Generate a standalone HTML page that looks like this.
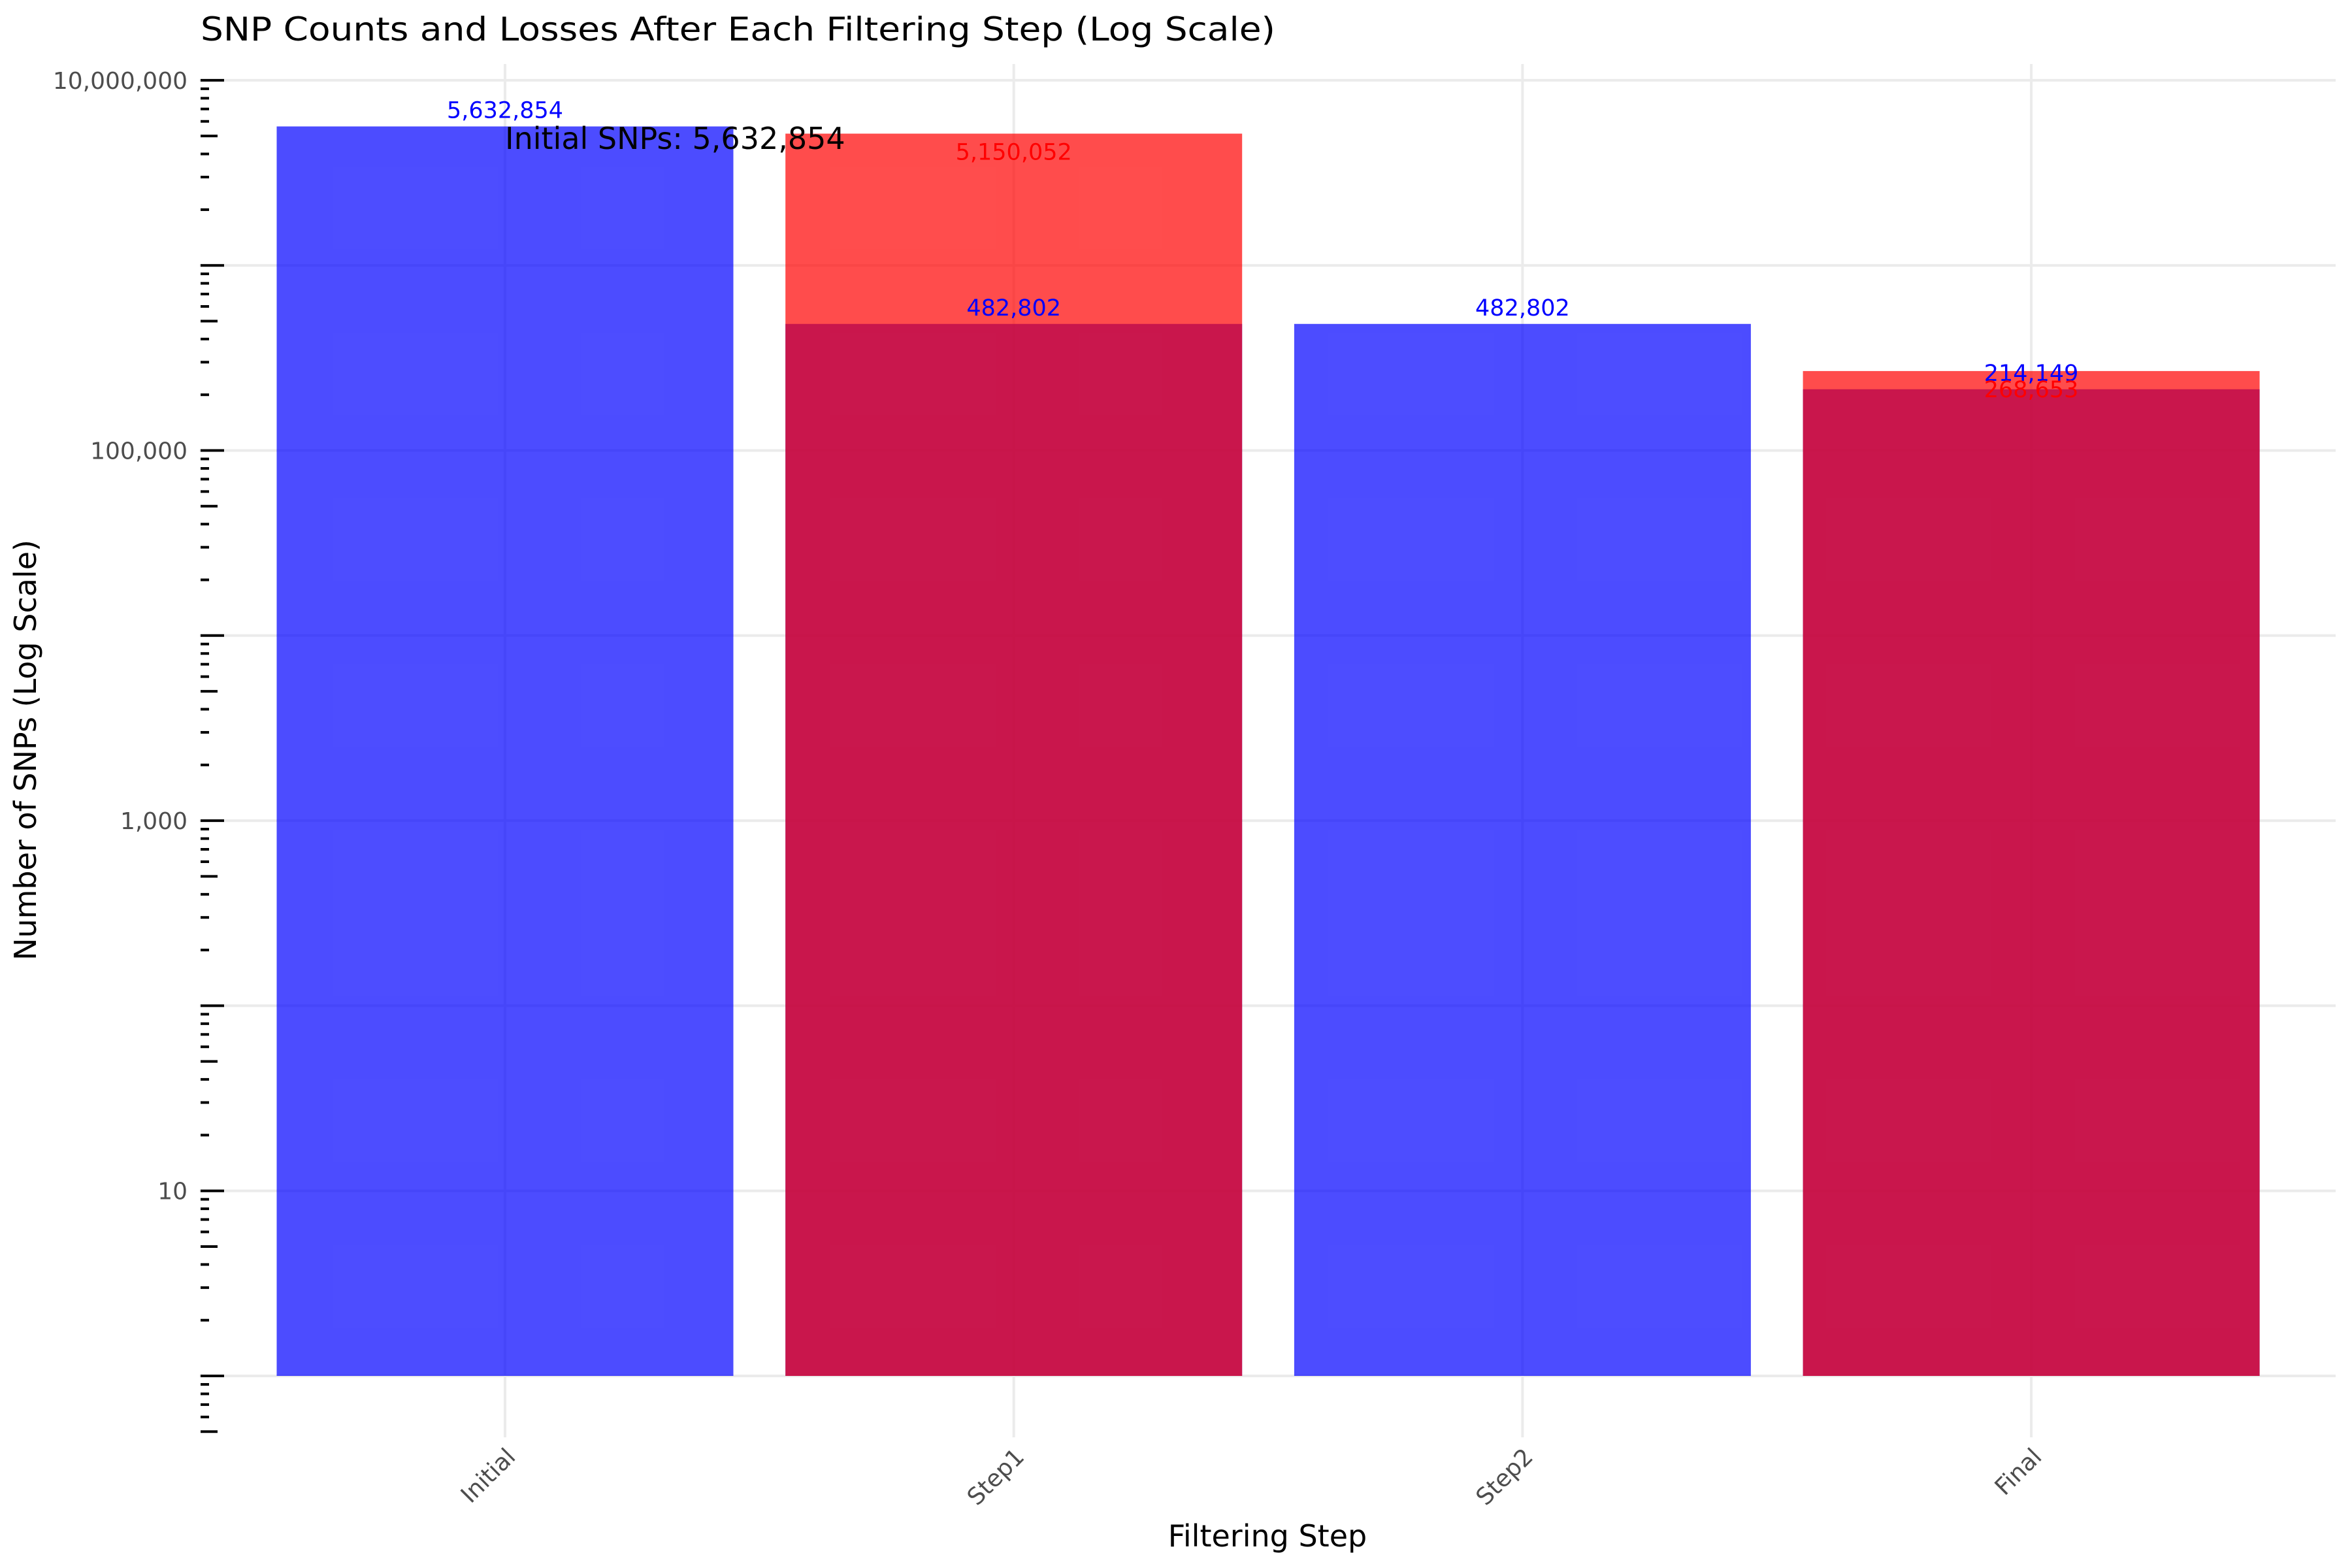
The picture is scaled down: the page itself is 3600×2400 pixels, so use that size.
<!DOCTYPE html>
<html><head><meta charset="utf-8"><style>
html,body{margin:0;padding:0;background:#fff;}
svg{display:block;font-family:"DejaVu Sans","Liberation Sans",sans-serif;}
</style></head><body>
<svg id="chart" width="3600" height="2400" viewBox="0 0 3600 2400" xmlns="http://www.w3.org/2000/svg">
<g id="grid"></g>
<g id="bars"></g>
<g id="yaxis"></g>
<g id="xaxis"></g>
<g id="labels"></g>
<text x="307" y="62" font-size="50" textLength="1645" lengthAdjust="spacingAndGlyphs" fill="#000">SNP Counts and Losses After Each Filtering Step (Log Scale)</text>
<text x="773" y="228" font-size="46" fill="#000">Initial SNPs: 5,632,854</text>
<text transform="translate(55,1148) rotate(-90)" text-anchor="middle" font-size="46" fill="#000">Number of SNPs (Log Scale)</text>
<text x="1940" y="2367" text-anchor="middle" font-size="46" fill="#000">Filtering Step</text>
</svg>
<script>
const categories = ["Initial", "Step1", "Step2", "Final"];
const remaining = [5632854, 482802, 482802, 214149];
const lost = [null, 5150052, null, 268653];
const yTickLabels = ["10", "1,000", "100,000", "10,000,000"];
const yTickValues = [10, 1000, 100000, 10000000];

const NS = "http://www.w3.org/2000/svg";
const X0 = 773, XSTEP = 778.7, BARW = 699;
const Y1 = 2106, DEC = 283.3;
function xPos(i){ return X0 + i*XSTEP; }
function yPos(v){ return Y1 - Math.log10(v)*DEC; }
function mk(tag, attrs, parent){
  const e = document.createElementNS(NS, tag);
  for (const k in attrs) e.setAttribute(k, attrs[k]);
  parent.appendChild(e); return e;
}
const grid = document.getElementById('grid');
const bars = document.getElementById('bars');
const yaxis = document.getElementById('yaxis');
const xaxis = document.getElementById('xaxis');
const labels = document.getElementById('labels');
const fmt = v => v.toLocaleString('en-US');

for (let p = 0; p <= 7; p++) {
  const l = mk('line', {x1:305, x2:3575, y1:yPos(Math.pow(10,p)), y2:yPos(Math.pow(10,p)), stroke:'#ebebeb', 'stroke-width':4}, grid);
  
  
}
categories.forEach((c,i) => {
  const l = mk('line', {x1:xPos(i), x2:xPos(i), y1:98, y2:2200, stroke:'#ebebeb', 'stroke-width':4}, grid);
  
  
});
for (let p = -1; p <= 6; p++) {
  for (let m = 1; m <= 9; m++) {
    const v = m*Math.pow(10,p);
    if (v < 0.5 || v > 10000000) continue;
    const len = m === 1 ? 36 : (m === 5 ? 26 : 13);
    const t = mk('line', {x1:307, x2:307+len, y1:yPos(v), y2:yPos(v), stroke:'#000', 'stroke-width':4}, yaxis);
    
    
  }
}
{
  const t = mk('line', {x1:307, x2:343, y1:yPos(1e7), y2:yPos(1e7), stroke:'#000', 'stroke-width':4}, yaxis);
  
  
}
yTickValues.forEach((v,i) => {
  const t = mk('text', {x:287, y:yPos(v)+13, 'text-anchor':'end', 'font-size':36, fill:'#4d4d4d'}, yaxis);
  t.textContent = yTickLabels[i];
  
  
});
categories.forEach((c,i) => {
  const t = mk('text', {transform:`translate(${xPos(i)+18},2232) rotate(-45)`, 'text-anchor':'end', 'font-size':36, fill:'#4d4d4d'}, xaxis);
  t.textContent = c;
  
  
});
remaining.forEach((v,i) => {
  if (v == null) return;
  const r = mk('rect', {x:xPos(i)-BARW/2, y:yPos(v), width:BARW, height:Y1-yPos(v), fill:'#0000ff', 'fill-opacity':0.7}, bars);
  
  
});
lost.forEach((v,i) => {
  if (v == null) return;
  const r = mk('rect', {x:xPos(i)-BARW/2, y:yPos(v), width:BARW, height:Y1-yPos(v), fill:'#ff0000', 'fill-opacity':0.7}, bars);
  
  
});
remaining.forEach((v,i) => {
  if (v == null) return;
  const t = mk('text', {x:xPos(i), y:yPos(v)-13, 'text-anchor':'middle', 'font-size':35, fill:'#0000ff'}, labels);
  t.textContent = fmt(v);
  
  
});
lost.forEach((v,i) => {
  if (v == null) return;
  const t = mk('text', {x:xPos(i), y:yPos(v)+40, 'text-anchor':'middle', 'font-size':35, fill:'#ff0000'}, labels);
  t.textContent = fmt(v);
  
  
});
</script>
</body></html>
